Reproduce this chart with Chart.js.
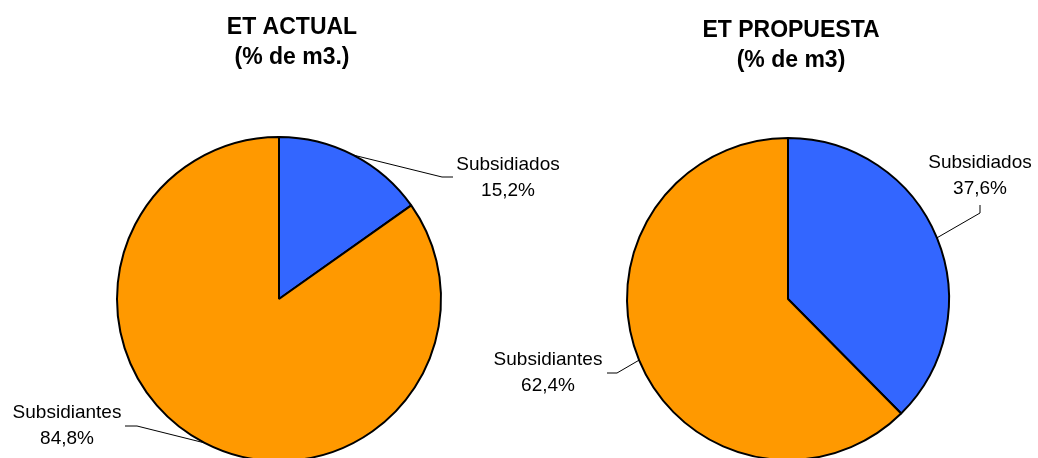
<!DOCTYPE html>
<html>
<head>
<meta charset="utf-8">
<script src="https://cdn.jsdelivr.net/npm/chart.js@4"></script>
<style>
  html, body { margin: 0; padding: 0; background: #fff; overflow: hidden; }
  .wrap { position: relative; width: 1038px; height: 458px; overflow: hidden; }
  canvas { position: absolute; top: 0; left: 0; }
</style>
</head>
<body>
<div class="wrap">
  <canvas id="actual" width="1038" height="480"></canvas>
  <canvas id="propuesta" width="1038" height="480"></canvas>
</div>
<script>
const categories = ['Subsidiados', 'Subsidiantes'];
const actualValues = [15.2, 84.8];
const propuestaValues = [37.6, 62.4];
const actualTitle = ['ET ACTUAL', '(% de m3.)'];
const propuestaTitle = ['ET PROPUESTA', '(% de m3)'];

const sliceColors = ['#3366FF', '#FF9900'];

const fmt = (v) => v.toFixed(1).replace('.', ',') + '%';

// draws the titles and the leader-line labels
const pieLabels = {
  id: 'pieLabels',
  afterDraw(chart, args, opts) {
    const ctx = chart.ctx;
    ctx.save();
    ctx.fillStyle = '#000';
    ctx.textAlign = 'center';
    ctx.textBaseline = 'middle';
    ctx.font = 'bold 23px "Liberation Sans", Arial, sans-serif';
    opts.title.forEach((t, i) => ctx.fillText(t, opts.titleX, opts.titleY[i]));

    const meta = chart.getDatasetMeta(0);
    const data = chart.data.datasets[0].data;
    meta.data.forEach((arc, i) => {
      const p = arc.getProps(['x', 'y', 'startAngle', 'endAngle', 'outerRadius'], true);
      const mid = (p.startAngle + p.endAngle) / 2;
      const sx = p.x + Math.cos(mid) * p.outerRadius;
      const sy = p.y + Math.sin(mid) * p.outerRadius;
      const l = opts.labels[i];
      ctx.strokeStyle = '#000';
      ctx.lineWidth = 1;
      ctx.beginPath();
      ctx.moveTo(sx, sy);
      l.line.forEach(([x, y]) => ctx.lineTo(x, y));
      ctx.stroke();
      ctx.font = '19px "Liberation Sans", Arial, sans-serif';
      ctx.fillText(chart.data.labels[i], l.x, l.y);
      ctx.fillText(fmt(data[i]), l.x, l.y + 26);
    });
    ctx.restore();
  }
};

function makePie(id, values, title, padding, labelOpts) {
  return new Chart(document.getElementById(id), {
    type: 'pie',
    data: {
      labels: categories,
      datasets: [{
        data: values,
        backgroundColor: sliceColors,
        borderColor: '#000',
        borderWidth: 2,
        hoverOffset: 0
      }]
    },
    options: {
      responsive: false,
      animation: false,
      devicePixelRatio: 1,
      layout: { padding: padding },
      plugins: {
        legend: { display: false },
        tooltip: { enabled: false },
        pieLabels: Object.assign({ title: title }, labelOpts)
      }
    },
    plugins: [pieLabels]
  });
}

makePie('actual', actualValues, actualTitle,
  { left: 116, right: 596, top: 136, bottom: 18 },
  {
    titleX: 292, titleY: [28, 58],
    labels: [
      { line: [[442, 177], [453, 177]], x: 508, y: 165 },
      { line: [[137, 426], [125, 426]], x: 67, y: 413 }
    ]
  });

makePie('propuesta', propuestaValues, propuestaTitle,
  { left: 626, right: 88, top: 137, bottom: 19 },
  {
    titleX: 791, titleY: [31, 61],
    labels: [
      { line: [[980, 213], [980, 205]], x: 980, y: 163 },
      { line: [[617, 373], [607, 373]], x: 548, y: 360 }
    ]
  });
</script>
</body>
</html>
